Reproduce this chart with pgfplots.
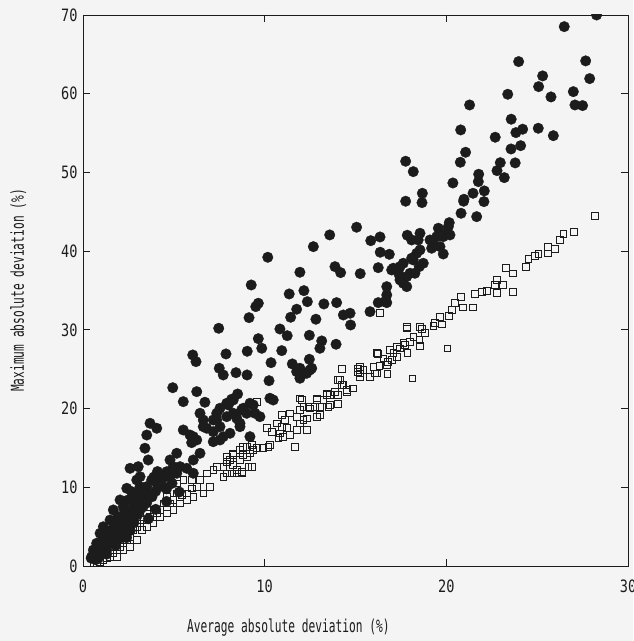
\documentclass[border=0pt]{standalone}
\usepackage{fontspec}
\setmainfont{DejaVu Sans Mono}[FakeStretch=0.63]
\newfontfamily\tickfamily{DejaVu Sans Mono}[FakeStretch=0.8]
\usepackage{pgfplots}
\usepackage{pgfplotstable}
\pgfplotsset{compat=1.18}
\usetikzlibrary{backgrounds}
\definecolor{bg}{HTML}{F4F4F4}
\definecolor{ink}{HTML}{1C1C1C}
\newcommand\plotfont{\fontsize{17.8bp}{20bp}\selectfont}
\newcommand\tickfont{\tickfamily\fontsize{17bp}{19bp}\selectfont}

% filled circles
\pgfplotstableread{
x y
28.27 70.00
26.49 68.52
23.98 64.08
27.67 64.17
27.89 61.92
25.30 62.26
25.08 60.90
26.99 60.26
25.76 59.59
23.38 59.93
21.28 58.57
27.08 58.57
27.50 58.49
23.57 56.76
20.79 55.40
25.06 55.61
23.83 55.06
24.20 55.49
22.69 54.47
25.89 54.67
23.56 52.98
24.09 53.40
21.06 52.56
20.77 51.29
22.97 51.24
22.79 50.23
23.79 51.21
23.19 49.34
21.78 49.77
21.76 48.83
20.36 48.66
22.09 47.65
21.47 47.35
20.97 46.59
17.76 51.42
18.18 50.10
18.68 47.35
18.66 46.16
17.76 46.34
20.95 46.34
20.81 44.81
21.67 44.38
22.07 46.29
15.06 43.04
13.58 42.06
12.68 40.57
15.84 41.33
16.35 41.80
17.85 42.02
18.55 42.27
19.56 42.91
20.16 43.62
20.20 42.06
19.83 39.64
16.36 39.86
16.86 39.60
13.87 38.03
14.18 37.27
15.26 37.14
16.25 37.90
11.94 37.32
12.16 34.98
12.35 33.58
13.26 33.29
13.96 33.46
14.33 31.89
14.70 32.11
15.80 32.31
16.25 33.46
16.72 33.46
17.08 37.83
17.45 38.03
17.63 38.46
17.82 36.76
18.00 37.19
18.18 38.88
18.37 39.73
18.55 40.15
18.73 38.46
18.27 37.19
17.45 36.34
17.63 35.92
17.82 35.49
16.72 35.49
16.72 34.43
16.62 33.58
19.10 41.42
19.28 41.00
19.47 41.84
19.65 40.57
19.83 41.84
20.02 42.27
19.19 40.37
18.09 39.10
18.45 41.42
18.09 41.42
18.51 38.03
17.41 36.97
16.99 37.61
20.11 43.11
10.17 39.22
9.26 35.70
11.35 34.56
9.65 33.38
9.51 32.95
11.76 32.62
11.43 31.60
12.82 31.35
9.14 31.55
7.47 30.20
10.84 30.11
11.24 29.26
12.46 29.31
9.65 28.88
9.84 27.66
9.04 27.28
10.94 27.36
13.14 28.59
13.04 27.66
13.93 28.17
7.87 26.94
6.04 26.81
6.22 25.96
10.35 25.83
11.52 25.67
12.46 26.26
11.76 24.69
11.94 23.85
12.31 24.48
12.59 25.12
7.50 25.12
7.72 24.27
8.42 24.56
9.03 24.27
10.24 23.54
4.94 22.65
6.26 22.15
5.52 20.88
6.71 20.80
8.51 21.85
10.29 21.31
10.47 21.09
9.19 20.67
8.18 21.18
8.00 20.46
7.54 20.04
8.73 19.82
9.47 19.40
8.46 18.77
6.44 19.40
7.36 18.55
8.64 17.70
5.52 17.28
6.62 17.70
7.17 17.06
9.19 16.43
6.07 16.43
14.73 30.62
11.94 25.12
12.49 24.90
7.91 20.67
8.27 21.09
8.82 20.04
9.01 19.40
9.37 20.46
9.74 18.97
7.36 19.40
7.17 18.55
7.54 17.70
7.91 18.97
8.27 19.40
8.64 18.13
6.62 18.55
6.81 17.50
7.72 16.43
8.09 16.86
7.17 15.79
5.89 16.64
5.98 15.67
6.26 16.01
6.44 14.32
6.07 13.47
5.16 14.32
4.79 13.47
4.97 12.62
4.61 11.98
4.24 10.93
4.06 10.51
4.42 10.08
4.79 11.35
5.16 11.78
5.34 12.62
5.71 12.41
6.07 11.78
3.69 18.13
3.51 16.64
3.41 14.96
4.06 17.50
3.59 13.47
2.59 12.41
3.04 12.62
3.14 11.35
2.41 9.87
2.68 9.44
2.96 10.93
3.14 10.08
3.51 10.08
3.32 9.02
3.78 10.93
2.04 8.39
2.22 7.53
2.49 8.39
2.77 8.81
2.96 7.97
1.67 7.12
1.94 6.26
2.41 6.70
1.49 5.84
1.12 4.99
1.30 3.72
0.94 4.15
0.75 2.88
0.57 2.03
0.48 1.18
0.45 1.00
0.75 1.61
1.03 2.45
1.49 2.88
1.67 4.15
2.04 4.99
2.41 5.43
2.68 6.26
3.14 7.12
3.32 8.39
2.77 7.53
1.58 4.57
1.12 2.88
0.84 0.98
1.30 2.03
1.85 3.30
2.31 4.15
2.59 4.99
7.54 16.01
0.60 1.50
0.90 2.00
1.00 3.00
1.20 2.40
1.40 3.50
1.50 4.50
1.60 3.20
1.80 5.00
1.90 4.00
2.00 6.00
2.10 3.60
2.20 5.00
2.30 7.00
2.50 6.00
2.60 4.50
2.70 7.00
2.80 5.50
3.00 8.50
3.00 6.50
3.20 9.50
3.30 7.50
3.50 8.00
3.60 9.20
3.80 8.80
4.00 9.50
4.10 12.00
3.90 11.30
4.40 11.20
4.60 9.80
4.90 10.50
1.30 1.50
1.80 2.60
2.40 3.60
0.70 0.80
1.10 1.60
3.60 6.00
4.00 7.20
4.60 8.20
5.30 9.40
}\circles

% open squares
\pgfplotstableread{
x y
28.18 44.51
27.04 42.40
26.44 42.15
26.25 41.42
25.96 40.28
25.58 40.57
25.58 39.73
25.06 39.64
24.88 39.39
24.51 38.97
24.38 38.03
23.68 37.19
23.28 37.90
23.68 34.85
23.13 35.70
22.77 36.34
22.68 35.70
22.77 34.73
22.25 34.94
21.94 34.85
21.58 34.56
21.48 32.87
20.81 34.22
20.93 32.87
20.48 33.38
20.29 32.53
20.16 31.80
19.65 31.68
19.37 30.84
19.74 30.71
18.55 30.41
17.82 30.41
20.05 27.66
19.28 30.53
18.82 29.57
18.64 30.08
18.51 28.72
18.55 27.99
18.18 29.13
18.00 28.50
17.82 30.20
17.72 28.08
17.85 27.10
17.45 27.66
17.27 26.59
16.90 27.44
16.99 26.17
16.53 26.39
16.25 26.94
16.72 25.54
16.31 25.41
15.98 25.32
16.75 24.36
18.13 23.85
16.07 24.48
15.80 24.05
15.25 25.25
15.25 24.48
14.27 25.03
14.15 23.63
14.24 23.00
14.84 22.58
14.51 22.15
14.05 21.73
14.05 20.58
13.59 20.46
13.59 21.73
16.35 32.11
17.63 28.30
17.27 27.86
17.08 27.03
16.80 25.96
16.17 27.03
16.17 24.48
15.43 24.90
15.15 24.69
15.25 24.05
14.33 23.00
13.87 22.15
13.41 21.73
13.23 21.09
13.04 20.24
12.86 21.09
13.50 20.24
12.49 20.04
12.04 21.09
11.94 19.82
11.76 18.97
12.13 18.55
11.39 19.40
11.12 18.55
10.94 17.70
10.66 18.13
11.21 17.50
11.39 16.64
10.75 16.23
10.39 17.06
10.11 17.50
11.67 15.16
10.20 15.16
9.92 14.96
9.56 14.96
9.37 14.74
9.19 14.32
9.01 15.16
8.82 14.10
8.64 13.47
9.29 12.62
8.27 14.10
8.09 13.47
7.91 13.89
8.27 12.83
8.46 11.78
7.91 11.78
8.73 11.78
7.72 12.62
9.56 20.88
12.86 18.97
13.04 19.19
11.94 18.13
12.31 17.28
11.76 17.28
10.84 16.86
10.29 15.37
10.94 19.19
11.02 16.43
12.13 20.24
12.31 18.77
11.94 21.31
12.40 20.24
13.41 21.94
14.05 23.63
15.15 25.12
14.51 22.36
12.86 21.31
12.77 20.24
7.91 13.25
8.27 14.32
8.64 14.74
9.01 13.89
9.10 12.62
9.29 15.37
8.82 15.16
8.46 12.20
8.73 11.98
8.18 11.78
7.72 11.35
7.36 12.62
7.17 12.20
6.81 11.78
6.44 10.93
6.62 9.24
6.26 10.08
5.98 9.87
5.71 9.24
5.43 9.02
5.16 9.24
4.97 8.39
4.79 7.97
4.61 8.81
4.42 7.97
4.24 7.12
4.06 6.70
3.87 7.12
3.69 6.26
3.51 6.70
3.32 5.84
3.14 5.43
2.96 4.99
2.77 4.57
2.59 3.72
2.41 3.30
2.22 2.88
2.04 2.45
1.85 2.03
3.51 4.99
3.23 4.57
3.87 5.43
4.24 6.26
4.61 6.70
4.97 7.12
5.34 7.97
5.71 8.39
6.07 8.81
5.52 10.93
5.16 10.51
5.98 10.93
6.99 10.08
1.67 1.61
1.49 1.18
1.30 0.98
1.12 0.76
0.94 0.55
0.75 0.42
0.57 0.34
1.85 1.18
2.22 2.03
2.59 2.45
2.96 3.30
}\squares

\begin{document}
\begin{tikzpicture}
\begin{axis}[
    name=main,
    scale only axis,
    width=545bp, height=551bp,
    xmin=0, xmax=30, ymin=0, ymax=70,
    xtick={0,10,20,30},
    ytick={0,10,20,30,40,50,60,70},
    tick align=inside,
    major tick length=7bp,
    axis line style={line width=0.9bp, color=ink},
    every tick/.style={line width=0.9bp, color=ink},
    tick label style={font=\tickfont, color=ink},
    /pgf/number format/assume math mode=true,
    xticklabel style={yshift=-10bp},
    yticklabel style={xshift=-2bp},
    xlabel={Average absolute deviation (\%)},
    ylabel={Maximum absolute deviation (\%)},
    label style={font=\plotfont, color=ink},
    xlabel style={at={(axis description cs:0.377,-0.1125)}, anchor=center},
    ylabel style={at={(axis description cs:-0.119,0.5)}, anchor=center},
    clip marker paths=true,
]
\addplot[only marks, mark=*, mark size=5.3bp, color=ink, mark options={fill=ink, line width=0.3bp}]
    table[x=x, y=y] {\circles};
\addplot[only marks, mark=square, mark size=3.4bp, color=ink, mark options={line width=0.7bp}]
    table[x=x, y=y] {\squares};
\end{axis}
\pgfresetboundingbox
\path[use as bounding box] ([xshift=-83bp,yshift=-75bp]main.south west) rectangle ([xshift=5bp,yshift=15bp]main.north east);
\begin{scope}[on background layer]
\fill[bg] ([xshift=-83bp,yshift=-75bp]main.south west) rectangle ([xshift=5bp,yshift=15bp]main.north east);
\end{scope}
\end{tikzpicture}
\end{document}
